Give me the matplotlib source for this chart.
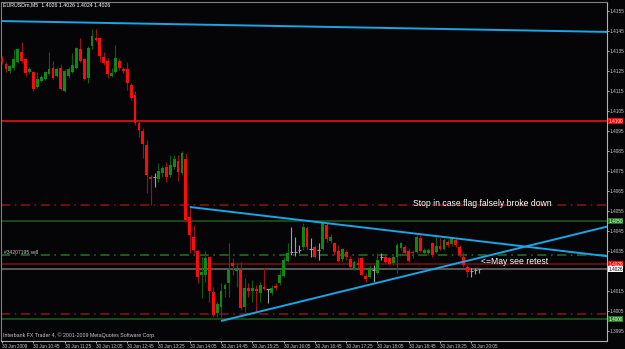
import matplotlib.pyplot as plt
import numpy as np

# EURUSDm M5, 30 Jun 2009, bars from 10:05 to 20:15
opens = [1.41315, 1.41285, 1.41250, 1.41265, 1.41295, 1.41345, 1.41310, 1.41245, 1.41245, 1.41170,
         1.41200, 1.41210, 1.41235, 1.41265, 1.41225, 1.41265, 1.41150, 1.41225, 1.41245, 1.41265,
         1.41360, 1.41310, 1.41215, 1.41375, 1.41415, 1.41415, 1.41320, 1.41300, 1.41225, 1.41245,
         1.41300, 1.41260, 1.41260, 1.41180, 1.41130, 1.40990, 1.40950, 1.40880, 1.40720, 1.40720,
         1.40710, 1.40740, 1.40770, 1.40730, 1.40770, 1.40800, 1.40740, 1.40810, 1.40520, 1.40420,
         1.40350, 1.40230, 1.40230, 1.40320, 1.40145, 1.40040, 1.40070, 1.40160, 1.40190, 1.40290,
         1.40250, 1.40255, 1.40070, 1.40165, 1.40150, 1.40160, 1.40140, 1.40170, 1.40160, 1.40140,
         1.40175, 1.40190, 1.40225, 1.40300, 1.40345, 1.40345, 1.40355, 1.40370, 1.40465, 1.40360,
         1.40370, 1.40355, 1.40360, 1.40480, 1.40400, 1.40390, 1.40350, 1.40310, 1.40345, 1.40310,
         1.40265, 1.40290, 1.40315, 1.40225, 1.40220, 1.40255, 1.40240, 1.40320, 1.40320, 1.40315,
         1.40290, 1.40320, 1.40365, 1.40370, 1.40350, 1.40345, 1.40345, 1.40415, 1.40340, 1.40340,
         1.40390, 1.40345, 1.40375, 1.40360, 1.40395, 1.40385, 1.40405, 1.40370, 1.40320, 1.40270,
         1.40250, 1.40255, 1.40260]
highs = [1.41325, 1.41295, 1.41280, 1.41360, 1.41365, 1.41395, 1.41315, 1.41270, 1.41250, 1.41245,
         1.41230, 1.41250, 1.41345, 1.41300, 1.41270, 1.41285, 1.41260, 1.41270, 1.41340, 1.41370,
         1.41415, 1.41315, 1.41375, 1.41460, 1.41460, 1.41420, 1.41345, 1.41315, 1.41265, 1.41380,
         1.41315, 1.41270, 1.41295, 1.41190, 1.41150, 1.41005, 1.40965, 1.40905, 1.40730, 1.40740,
         1.40790, 1.40775, 1.40795, 1.40830, 1.40830, 1.40830, 1.40850, 1.40840, 1.40570, 1.40480,
         1.40355, 1.40320, 1.40350, 1.40320, 1.40170, 1.40095, 1.40190, 1.40190, 1.40390, 1.40315,
         1.40290, 1.40295, 1.40215, 1.40190, 1.40205, 1.40180, 1.40195, 1.40265, 1.40160, 1.40180,
         1.40190, 1.40255, 1.40320, 1.40390, 1.40470, 1.40420, 1.40380, 1.40490, 1.40475, 1.40415,
         1.40380, 1.40390, 1.40495, 1.40490, 1.40435, 1.40395, 1.40380, 1.40365, 1.40355, 1.40325,
         1.40305, 1.40320, 1.40320, 1.40240, 1.40280, 1.40280, 1.40340, 1.40340, 1.40330, 1.40320,
         1.40330, 1.40390, 1.40395, 1.40380, 1.40365, 1.40355, 1.40430, 1.40440, 1.40365, 1.40365,
         1.40395, 1.40425, 1.40415, 1.40415, 1.40410, 1.40420, 1.40415, 1.40380, 1.40345, 1.40280,
         1.40265, 1.40265, 1.40260]
lows = [1.41285, 1.41245, 1.41240, 1.41255, 1.41290, 1.41290, 1.41225, 1.41235, 1.41150, 1.41165,
        1.41195, 1.41205, 1.41230, 1.41210, 1.41220, 1.41155, 1.41145, 1.41215, 1.41240, 1.41260,
        1.41295, 1.41205, 1.41190, 1.41360, 1.41400, 1.41295, 1.41280, 1.41215, 1.41220, 1.41240,
        1.41255, 1.41240, 1.41155, 1.41105, 1.40980, 1.40920, 1.40815, 1.40640, 1.40580, 1.40670,
        1.40695, 1.40720, 1.40695, 1.40720, 1.40760, 1.40700, 1.40730, 1.40495, 1.40340, 1.40340,
        1.40190, 1.40115, 1.40195, 1.40095, 1.40020, 1.40020, 1.40020, 1.40120, 1.40120, 1.40230,
        1.40170, 1.40055, 1.40045, 1.40120, 1.40095, 1.40045, 1.40095, 1.40155, 1.40090, 1.40130,
        1.40155, 1.40180, 1.40220, 1.40295, 1.40330, 1.40325, 1.40340, 1.40355, 1.40360, 1.40320,
        1.40315, 1.40305, 1.40355, 1.40395, 1.40390, 1.40330, 1.40295, 1.40295, 1.40305, 1.40265,
        1.40255, 1.40265, 1.40230, 1.40195, 1.40215, 1.40195, 1.40235, 1.40305, 1.40290, 1.40280,
        1.40280, 1.40240, 1.40355, 1.40330, 1.40295, 1.40315, 1.40340, 1.40345, 1.40335, 1.40330,
        1.40320, 1.40340, 1.40355, 1.40355, 1.40370, 1.40375, 1.40370, 1.40320, 1.40270, 1.40220,
        1.40220, 1.40235, 1.40240]
closes = [1.41295, 1.41260, 1.41275, 1.41310, 1.41360, 1.41300, 1.41240, 1.41260, 1.41160, 1.41210,
          1.41220, 1.41245, 1.41260, 1.41215, 1.41260, 1.41160, 1.41250, 1.41260, 1.41280, 1.41365,
          1.41300, 1.41210, 1.41365, 1.41425, 1.41405, 1.41325, 1.41290, 1.41235, 1.41240, 1.41315,
          1.41265, 1.41250, 1.41190, 1.41115, 1.40990, 1.40955, 1.40885, 1.40730, 1.40710, 1.40720,
          1.40750, 1.40765, 1.40720, 1.40780, 1.40810, 1.40745, 1.40840, 1.40505, 1.40430, 1.40355,
          1.40220, 1.40245, 1.40315, 1.40150, 1.40030, 1.40085, 1.40150, 1.40180, 1.40255, 1.40275,
          1.40265, 1.40065, 1.40165, 1.40150, 1.40165, 1.40150, 1.40180, 1.40160, 1.40160, 1.40165,
          1.40165, 1.40230, 1.40305, 1.40340, 1.40345, 1.40345, 1.40355, 1.40470, 1.40370, 1.40360,
          1.40320, 1.40355, 1.40490, 1.40410, 1.40420, 1.40345, 1.40300, 1.40360, 1.40320, 1.40270,
          1.40295, 1.40280, 1.40230, 1.40210, 1.40265, 1.40255, 1.40305, 1.40320, 1.40295, 1.40285,
          1.40320, 1.40380, 1.40390, 1.40340, 1.40300, 1.40340, 1.40420, 1.40350, 1.40355, 1.40355,
          1.40330, 1.40375, 1.40360, 1.40405, 1.40380, 1.40415, 1.40380, 1.40330, 1.40280, 1.40245,
          1.40250, 1.40255, 1.40260]

time_labels = ['30 Jun 2009', '30 Jun 10:45', '30 Jun 11:25', '30 Jun 12:05', '30 Jun 12:45',
               '30 Jun 13:25', '30 Jun 14:05', '30 Jun 14:45', '30 Jun 15:25', '30 Jun 16:05',
               '30 Jun 16:45', '30 Jun 17:25', '30 Jun 18:05', '30 Jun 18:45', '30 Jun 19:25',
               '30 Jun 20:05']
price_ticks = [1.3995, 1.4005, 1.4015, 1.4035, 1.4045, 1.4055, 1.4065, 1.4075, 1.4085, 1.4095,
               1.4105, 1.4115, 1.4125, 1.4135, 1.4145, 1.4155]

# horizontal levels: (price, colour, style)
levels = [(1.4100, '#ff1010', '-'), (1.4058, '#8b1515', (0, (6, 3, 1, 3))),
          (1.4050, '#1c5c1c', '-'), (1.4033, '#2a6e2a', (0, (6, 3, 1, 3))),
          (1.40285, '#7a1212', '-'), (1.4026, '#6e6e6e', '-'),
          (1.40035, '#8b1515', (0, (6, 3, 1, 3))), (1.4001, '#1c5c1c', '-')]
price_boxes = [(1.4100, '1.4100', '#ff0000', 'white'), (1.4050, '1.4050', '#1f7a1f', 'white'),
               (1.40285, '1.4029', '#ff0000', 'white'), (1.4026, '1.4026', 'white', 'black'),
               (1.4001, '1.4000', '#1f7a1f', 'white')]

# trendlines: (bar, price) anchors
trend_top = [(-1, 1.41500), (156, 1.41445)]
trend_down = [(48, 1.40570), (120, 1.40404)]
trend_up = [(56, 1.40000), (120, 1.40306)]

BG = '#050508'
x = np.arange(len(opens))
o = np.array(opens)
h = np.array(highs)
l = np.array(lows)
c = np.array(closes)

fig = plt.figure(figsize=(6.25, 3.49), dpi=100, facecolor=BG)
ax = fig.add_axes([1.5 / 625, 8 / 349, 605.5 / 625, 339.5 / 349], facecolor=BG)
x_max = 154.7
ax.set_xlim(-0.15, x_max)
ax.set_ylim(1.39900, 1.415975)

for price, col, ls in levels:
    ax.axhline(price, color=col, lw=1.1, linestyle=ls, zorder=1)

up = c > o
down = c < o
flat = c == o
ax.vlines(x[up], l[up], h[up], color='#0b5e0b', lw=0.8, zorder=2)
ax.vlines(x[down], l[down], h[down], color='#a01010', lw=0.8, zorder=2)
ax.vlines(x[flat], l[flat], h[flat], color='#a0a0a0', lw=0.8, zorder=2)
ax.bar(x[up], c[up] - o[up], bottom=o[up], width=0.72, color='#0f8a0f', lw=0, zorder=3)
ax.bar(x[down], o[down] - c[down], bottom=c[down], width=0.72, color='#ff0a0a', lw=0, zorder=3)
ax.hlines(o[flat], x[flat] - 0.4, x[flat] + 0.4, color='#a0a0a0', lw=0.8, zorder=3)


def draw_trend(anchors, extend):
    (x0, y0), (x1, y1) = anchors
    slope = (y1 - y0) / (x1 - x0)
    x_end = x_max if extend else x1
    ax.plot([x0, x_end], [y0, y0 + slope * (x_end - x0)], color='#18a6e6', lw=1.4,
            solid_capstyle='butt', zorder=4)


draw_trend(trend_top, False)
draw_trend(trend_down, True)
draw_trend(trend_up, True)

font = ['Liberation Sans Narrow', 'Liberation Sans', 'DejaVu Sans']
ax.text(105.2, 1.40590, 'Stop in case flag falsely broke down', color='white', fontsize=6.2,
        family='Liberation Sans', va='center', ha='left', zorder=5)
ax.text(122.6, 1.40300, '<=May see retest', color='white', fontsize=6.2,
        family='Liberation Sans', va='center', ha='left', zorder=5)
ax.text(0.6, 1.40345, '#34207195 sell', color='#c8c8c8', fontsize=3.6, family=font,
        va='center', ha='left', zorder=5)
fig.text(3 / 625, 1 - 5 / 349, 'EURUSDm,M5  1.4026 1.4026 1.4024 1.4026', color='white',
         fontsize=3.8, family=font, va='center', ha='left')
fig.text(3 / 625, 1 - 335 / 349, 'Interbank FX Trader 4, \u00a9 2001-2009 MetaQuotes Software Corp.',
         color='#c8c8c8', fontsize=3.8, family=font, va='center', ha='left')

# axes frame and ticks
for side in ['top', 'left']:
    ax.spines[side].set_color('#808080')
    ax.spines[side].set_linewidth(0.8)
for side in ['right', 'bottom']:
    ax.spines[side].set_color('#b0b0b0')
    ax.spines[side].set_linewidth(0.8)

ax.yaxis.tick_right()
ax.set_yticks(price_ticks)
ax.set_yticklabels(['%.4f' % p for p in price_ticks])
ax.tick_params(axis='y', colors='#c8c8c8', labelsize=3.4, length=1.5, width=0.6, pad=0.6)
for lab in ax.get_yticklabels():
    lab.set_family(font)

ax.set_xticks(np.arange(0, len(opens), 8))
ax.set_xticklabels(time_labels, ha='left')
ax.tick_params(axis='x', colors='#c8c8c8', labelsize=3.3, length=1.5, width=0.6, pad=0.3)
for lab in ax.get_xticklabels():
    lab.set_family(font)

for price, txt, fc, tc in price_boxes:
    ax.text(1.002, price, txt, transform=ax.get_yaxis_transform(), color=tc, fontsize=3.4,
            family=font, va='center', ha='left', clip_on=False, zorder=6,
            bbox=dict(boxstyle='square,pad=0.15', fc=fc, ec='none'))

fig.savefig('out.png', dpi=100, facecolor=BG)
